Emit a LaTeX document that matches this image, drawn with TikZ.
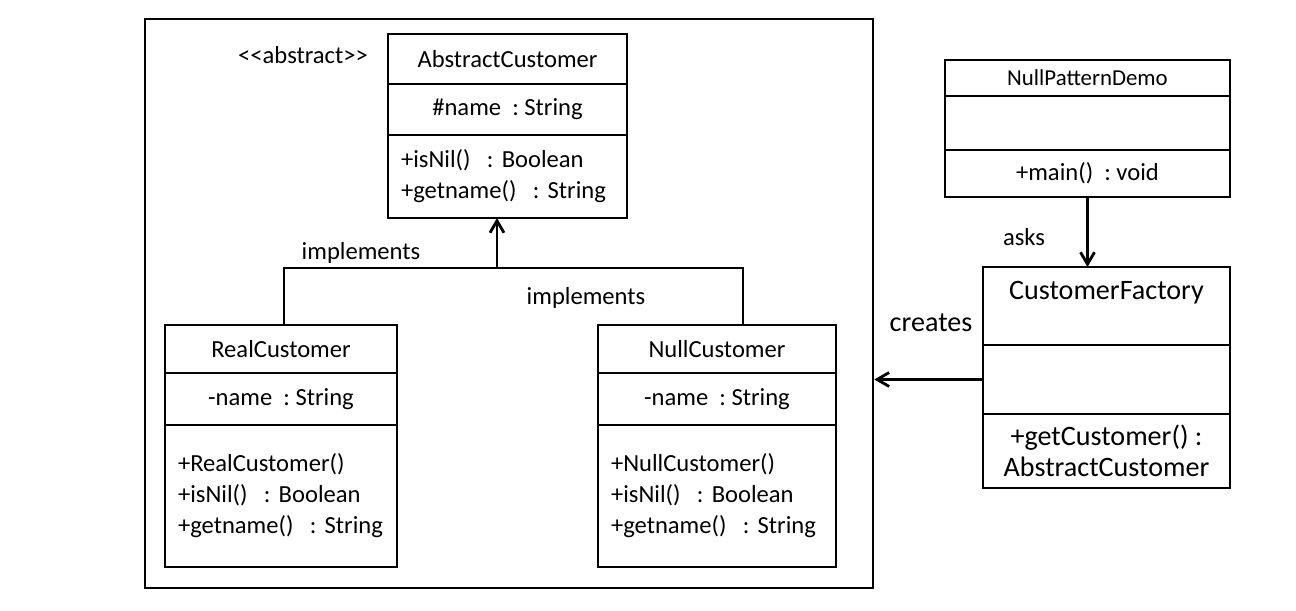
\documentclass[tikz,border=0pt]{standalone}
\usepackage{fontspec}
\setmainfont{Carlito}[Ligatures=TeXOff]
\usetikzlibrary{arrows.meta}
\usetikzlibrary{positioning}
\frenchspacing
\tikzstyle{box}=[draw,line width=1.6pt,inner sep=0pt,outer sep=0pt,font=\fontsize{14}{17.6}\selectfont]
\tikzstyle{ops}=[box,align=left,inner xsep=0.26cm]
\tikzstyle{lbl}=[inner sep=0pt,font=\fontsize{14}{17.6}\selectfont]
\tikzstyle{link}=[line width=1.6pt]
\tikzstyle{arr}=[link,-{Straight Barb[length=2.4mm,width=2.8mm,line width=1.6pt]}]

\begin{document}
\begin{tikzpicture}[x=0.02cm,y=-0.02cm]
	\useasboundingbox (0,0) rectangle (1296,610);
	\node[draw,line width=1.6pt,inner sep=0pt,minimum width=14.56cm,minimum height=11.38cm] (outer) at (509,303.5) {};
	% abstract class
	\node[lbl] (abs) at (303,55) {<<abstract>>};
	\node[box,minimum width=4.78cm,minimum height=1cm] (ac1) at (507.5,59) {AbstractCustomer};
	\node[box,minimum width=4.78cm,minimum height=1.02cm,below=0pt of ac1] (ac2) {\#name~ : String};
	\node[ops,text width=4.26cm,minimum height=1.66cm,below=0pt of ac2] (ac3) {+isNil()~ : Boolean\\+getname()~ : String};
	% concrete classes
	\node[box,minimum width=4.64cm,minimum height=0.96cm] (rc1) at (281,349) {RealCustomer};
	\node[box,minimum width=4.64cm,minimum height=1.04cm,below=0pt of rc1] (rc2) {-name~ : String};
	\node[ops,text width=4.12cm,minimum height=2.84cm,below=0pt of rc2] (rc3) {+RealCustomer()\\+isNil()~ : Boolean\\+getname()~ : String};
	\node[box,minimum width=4.76cm,minimum height=0.96cm] (nc1) at (717,349) {NullCustomer};
	\node[box,minimum width=4.76cm,minimum height=1.04cm,below=0pt of nc1] (nc2) {-name~ : String};
	\node[ops,text width=4.24cm,minimum height=2.84cm,below=0pt of nc2] (nc3) {+NullCustomer()\\+isNil()~ : Boolean\\+getname()~ : String};
	% demo and factory
	\node[box,font=\fontsize{13}{16}\selectfont,minimum width=5.7cm,minimum height=0.72cm] (npd1) at (1087.5,78) {NullPatternDemo};
	\node[box,minimum width=5.7cm,minimum height=1.08cm,below=0pt of npd1] (npd2) {};
	\node[box,minimum width=5.7cm,minimum height=0.94cm,below=0pt of npd2] (npd3) {+main()~ : void};
	\node[box,font=\fontsize{16}{17.6}\selectfont,minimum width=4.94cm,minimum height=1.56cm,text depth=0.62cm] (cf1) at (1106.5,306) {CustomerFactory};
	\node[box,minimum width=4.94cm,minimum height=1.38cm,below=0pt of cf1] (cf2) {};
	\node[box,font=\fontsize{16}{17.6}\selectfont,align=center,minimum width=4.94cm,minimum height=1.48cm,below=0pt of cf2] (cf3) {+getCustomer() :\\AbstractCustomer};
	% connectors
	\coordinate (jl) at (284,268);
	\coordinate (jr) at (743,268);
	\coordinate (jm) at (497,268);
	\draw[link] (rc1.north -| jl) -- (jl) -- (jr) -- (nc1.north -| jr);
	\draw[arr] (jm) -- (ac3.south -| jm);
	\draw[arr] (npd3.south) -- (npd3.south |- cf1.north);
	\draw[arr] (cf2.west) -- (cf2.west -| outer.east);
	\node[lbl] (impl1) at (361,253) {implements};
	\node[lbl] (impl2) at (586,298) {implements};
	\node[lbl] (asks) at (1024,237) {asks};
	\node[lbl,font=\fontsize{16}{17.6}\selectfont] (creates) at (931,323) {creates};
\end{tikzpicture}
\end{document}
